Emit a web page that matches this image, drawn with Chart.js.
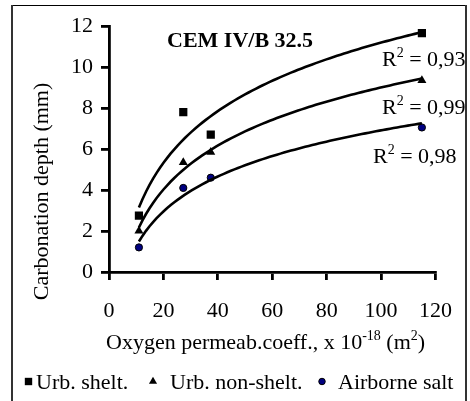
<!DOCTYPE html>
<html>
<head>
<meta charset="utf-8">
<script src="https://cdn.jsdelivr.net/npm/chart.js@4/dist/chart.umd.min.js"></script>
<style>
  html, body { margin: 0; padding: 0; background: #fff; }
  #wrap { position: relative; width: 470px; height: 401px; }
</style>
</head>
<body>
<div id="wrap"><canvas id="chart" width="470" height="401"></canvas></div>
<script>
// Oxygen permeability coefficient (x 10^-18 m^2) of the tested concretes
const permeability = [11, 27.3, 37.4, 115];

// Carbonation depth (mm) per exposure condition
const urbSheltered    = [2.75, 7.8, 6.7, 11.65];
const urbNonSheltered = [2.0, 5.35, 5.85, 9.35];
const airborneSalt    = [1.2, 4.1, 4.6, 7.05];

const seriesNames = ['Urb. shelt.', 'Urb. non-shelt.', 'Airborne salt'];
const r2Values = ['0,93', '0,99', '0,98'];

const xTicks = { min: 0, max: 120, step: 20 };
const yTicks = { min: 0, max: 12, step: 2 };

const FONT = '"Liberation Serif", "Times New Roman", serif';

// Logarithmic least-squares trendline y = a ln(x) + b over the measured range
function logTrend(xs, ys, steps) {
  const lx = xs.map(Math.log);
  const n = xs.length;
  const mx = lx.reduce((s, v) => s + v, 0) / n;
  const my = ys.reduce((s, v) => s + v, 0) / n;
  let sxy = 0, sxx = 0;
  for (let i = 0; i < n; i++) {
    sxy += (lx[i] - mx) * (ys[i] - my);
    sxx += (lx[i] - mx) * (lx[i] - mx);
  }
  const a = sxy / sxx, b = my - a * mx;
  const x0 = Math.min(...xs), x1 = Math.max(...xs);
  const pts = [];
  for (let i = 0; i <= steps; i++) {
    const x = x0 + (x1 - x0) * i / steps;
    pts.push({ x, y: a * Math.log(x) + b });
  }
  return pts;
}

const toPoints = ys => ys.map((y, i) => ({ x: permeability[i], y }));

const markerStyles = [
  { pointStyle: 'rect', radius: 5.8, backgroundColor: '#000', borderColor: '#000', borderWidth: 0 },
  { pointStyle: 'triangle', radius: 5.2, backgroundColor: '#000', borderColor: '#000', borderWidth: 0 },
  { pointStyle: 'circle', radius: 3.6, backgroundColor: '#000080', borderColor: '#000', borderWidth: 1 }
];

const seriesValues = [urbSheltered, urbNonSheltered, airborneSalt];

const datasets = [];
seriesValues.forEach((ys, i) => {
  const m = markerStyles[i];
  datasets.push({
    type: 'scatter',
    label: seriesNames[i],
    data: toPoints(ys),
    pointStyle: m.pointStyle,
    pointRadius: m.radius,
    pointHoverRadius: m.radius,
    pointBackgroundColor: m.backgroundColor,
    pointBorderColor: m.borderColor,
    pointBorderWidth: m.borderWidth,
    showLine: false,
    order: 2
  });
});
seriesValues.forEach((ys, i) => {
  datasets.push({
    type: 'line',
    label: 'trend ' + seriesNames[i],
    data: logTrend(permeability, ys, 80),
    borderColor: '#000',
    borderWidth: 2.6,
    pointRadius: 0,
    tension: 0,
    fill: false,
    order: 1
  });
});

// Draws text made of normal and superscript runs, starting at (x, y) baseline
function drawRich(ctx, parts, x, y, size, weight) {
  let cx = x;
  parts.forEach(p => {
    const fs = p.sup ? Math.round(size * 0.62) : size;
    ctx.font = (weight || 'normal') + ' ' + fs + 'px ' + FONT;
    ctx.fillText(p.t, cx, p.sup ? y - size * 0.4 : y);
    cx += ctx.measureText(p.t).width;
  });
  return cx - x;
}

const annotations = {
  id: 'annotations',
  afterDraw(chart) {
    const ctx = chart.ctx;
    ctx.save();
    ctx.fillStyle = '#000';
    ctx.textAlign = 'left';
    ctx.textBaseline = 'alphabetic';

    // chart title inside the plot
    ctx.font = 'bold 22px ' + FONT;
    ctx.fillText('CEM IV/B 32.5', 167, 47);

    // R² of each trendline
    const r2Pos = [[382, 66], [382, 114], [373, 163]];
    r2Values.forEach((v, i) => {
      drawRich(ctx, [{ t: 'R' }, { t: '2', sup: true }, { t: ' = ' + v }], r2Pos[i][0], r2Pos[i][1], 22);
    });

    // x axis title
    const xParts = [{ t: 'Oxygen permeab.coeff., x 10' }, { t: '-18', sup: true }, { t: ' (m' }, { t: '2', sup: true }, { t: ')' }];
    drawRich(ctx, xParts, 106, 349, 22);

    // y axis title
    ctx.save();
    ctx.translate(48, 191.5);
    ctx.rotate(-Math.PI / 2);
    ctx.font = '22px ' + FONT;
    ctx.textAlign = 'center';
    ctx.fillText('Carbonation depth (mm)', 0, 0);
    ctx.restore();

    // legend
    const legendPos = [[28.5, 36], [153, 170], [322, 338]];
    seriesNames.forEach((name, i) => {
      const m = markerStyles[i];
      ctx.fillStyle = m.backgroundColor;
      ctx.strokeStyle = m.borderColor;
      ctx.lineWidth = m.borderWidth;
      Chart.helpers.drawPoint(ctx, { pointStyle: m.pointStyle, radius: m.radius * 0.9, rotation: 0, borderWidth: m.borderWidth }, legendPos[i][0], 381.5);
      ctx.fillStyle = '#000';
      ctx.font = '22px ' + FONT;
      ctx.fillText(name, legendPos[i][1], 389);
    });

    // chart frame
    ctx.strokeStyle = '#000';
    ctx.lineWidth = 1;
    ctx.beginPath();
    ctx.moveTo(12, 5.5);
    ctx.lineTo(466, 5.5);
    ctx.stroke();
    ctx.strokeStyle = '#333';
    ctx.lineWidth = 2;
    ctx.beginPath();
    ctx.moveTo(12, 5);
    ctx.lineTo(12, 401);
    ctx.moveTo(466, 5);
    ctx.lineTo(466, 401);
    ctx.stroke();
    ctx.restore();
  }
};

const axisColor = '#000';

new Chart(document.getElementById('chart'), {
  data: { datasets },
  options: {
    responsive: false,
    animation: false,
    events: [],
    layout: { padding: { left: 0, right: 18, top: 26, bottom: 0 } },
    plugins: {
      legend: { display: false },
      title: { display: false },
      tooltip: { enabled: false }
    },
    scales: {
      x: {
        type: 'linear',
        min: xTicks.min,
        max: xTicks.max,
        ticks: { stepSize: xTicks.step, color: '#000', font: { family: FONT, size: 22 }, padding: 18, maxRotation: 0 },
        grid: { drawOnChartArea: false, drawTicks: true, tickLength: 8, color: axisColor, lineWidth: 2.8 },
        border: { display: true, color: axisColor, width: 2.8 },
        afterFit(scale) { scale.height = 401 - 272; }
      },
      y: {
        type: 'linear',
        min: yTicks.min,
        max: yTicks.max,
        ticks: { stepSize: yTicks.step, color: '#000', font: { family: FONT, size: 22 }, padding: 8 },
        grid: { drawOnChartArea: false, drawTicks: true, tickLength: 8, color: axisColor, lineWidth: 2.8 },
        border: { display: true, color: axisColor, width: 2.8 },
        afterFit(scale) { scale.width = 109; }
      }
    }
  },
  plugins: [annotations]
});
</script>
</body>
</html>
